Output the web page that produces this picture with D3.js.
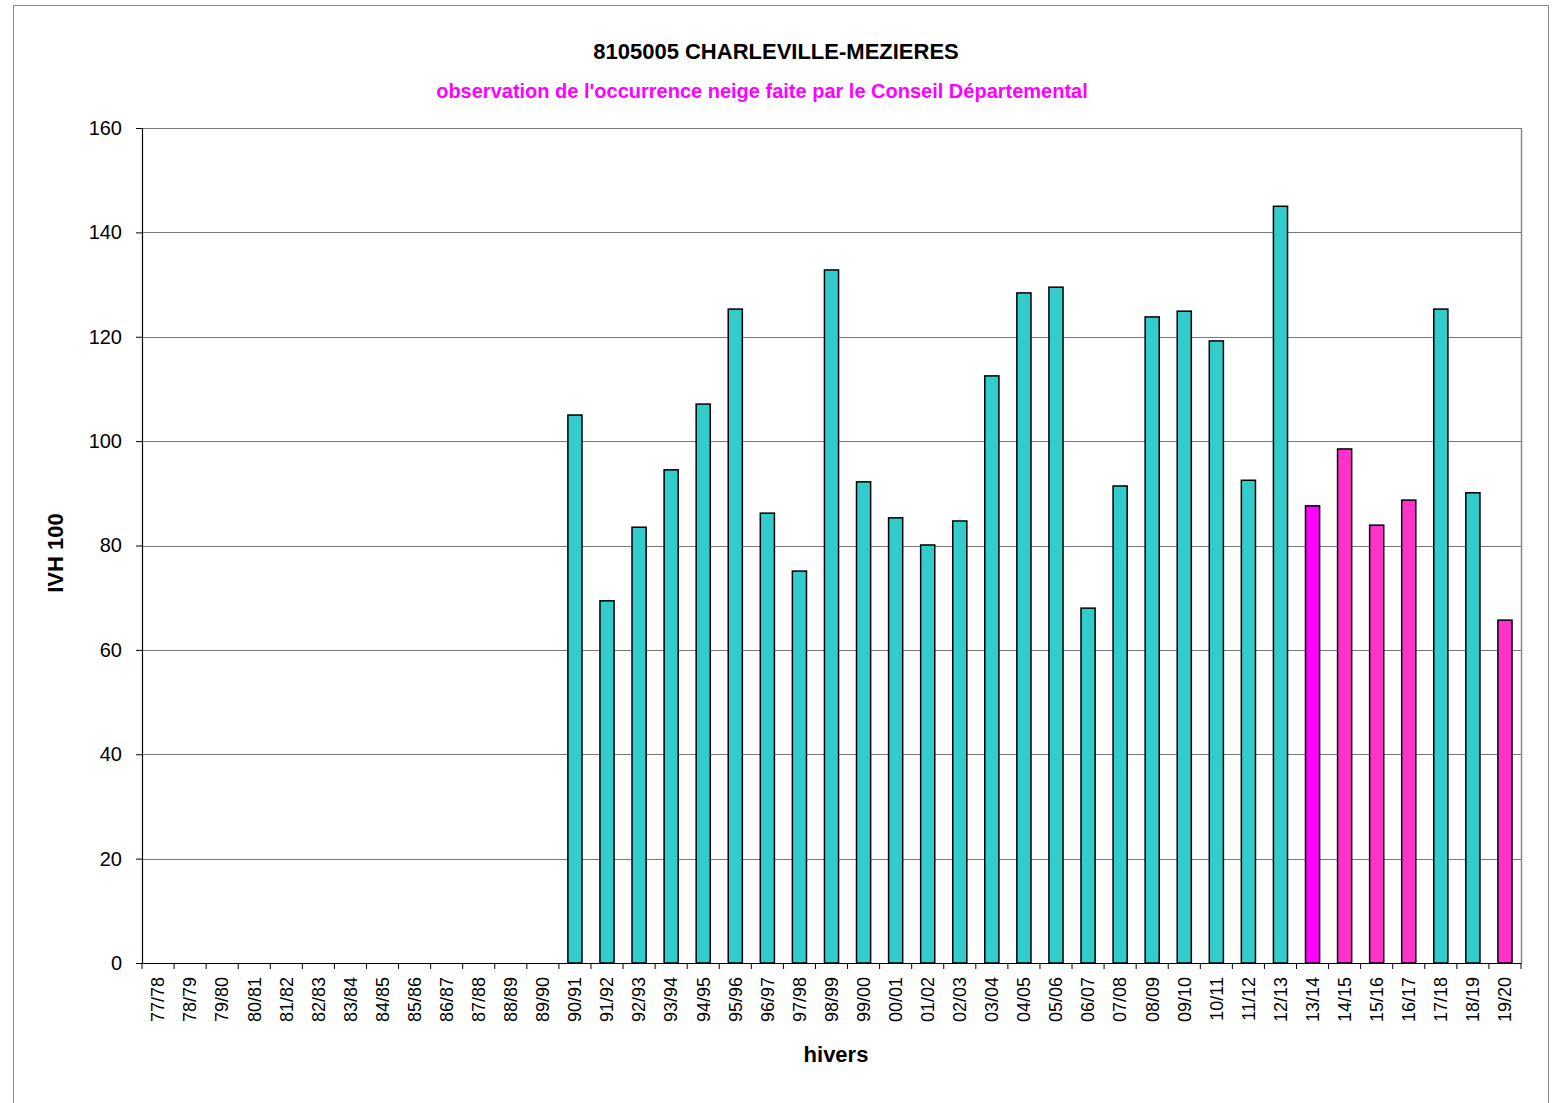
<!DOCTYPE html>
<html><head><meta charset="utf-8">
<script src="https://cdn.jsdelivr.net/npm/d3@7"></script>
<style>body{margin:0;background:#fff}svg{display:block}</style>
</head><body>
<svg id="c" width="1552" height="1103"></svg>
<script>
const categories = ["77/78","78/79","79/80","80/81","81/82","82/83","83/84","84/85","85/86","86/87","87/88","88/89","89/90","90/91","91/92","92/93","93/94","94/95","95/96","96/97","97/98","98/99","99/00","00/01","01/02","02/03","03/04","04/05","05/06","06/07","07/08","08/09","09/10","10/11","11/12","12/13","13/14","14/15","15/16","16/17","17/18","18/19","19/20"];
const values = [null,null,null,null,null,null,null,null,null,null,null,null,null,105,69.4,83.5,94.5,107.1,125.3,86.2,75.1,132.8,92.2,85.3,80.1,84.7,112.5,128.4,129.5,68.0,91.4,123.8,124.9,119.2,92.5,145.0,87.6,98.5,83.9,88.7,125.3,90.1,65.7];
const barColors = ["#33CCCC","#33CCCC","#33CCCC","#33CCCC","#33CCCC","#33CCCC","#33CCCC","#33CCCC","#33CCCC","#33CCCC","#33CCCC","#33CCCC","#33CCCC","#33CCCC","#33CCCC","#33CCCC","#33CCCC","#33CCCC","#33CCCC","#33CCCC","#33CCCC","#33CCCC","#33CCCC","#33CCCC","#33CCCC","#33CCCC","#33CCCC","#33CCCC","#33CCCC","#33CCCC","#33CCCC","#33CCCC","#33CCCC","#33CCCC","#33CCCC","#33CCCC","#FF00FF","#FF33CC","#FF33CC","#FF33CC","#33CCCC","#33CCCC","#FF33CC"];
const yTicks = [0,20,40,60,80,100,120,140,160];
const title = "8105005 CHARLEVILLE-MEZIERES";
const subtitle = "observation de l'occurrence neige faite par le Conseil Départemental";
const xTitle = "hivers";
const yTitle = "IVH 100";

const svg = d3.select("#c");
const font = "'Liberation Sans', Arial, sans-serif";
const L = 142, R = 1521, T = 128, B = 963;

svg.append("rect").attr("x",13.5).attr("y",5.5).attr("width",1535).attr("height",1110)
  .attr("fill","none").attr("stroke","#888").attr("stroke-width",1);

const x = d3.scaleBand().domain(categories).range([L,R]).paddingInner(0.56).paddingOuter(0.28);
const y = d3.scaleLinear().domain([0,160]).range([B,T]);

// grid
svg.append("g").selectAll("line").data(yTicks.filter(d=>d>0)).join("line")
  .attr("x1",L).attr("x2",R).attr("y1",d=>Math.round(y(d))+0.5).attr("y2",d=>Math.round(y(d))+0.5)
  .attr("stroke","#777").attr("stroke-width",1.2);
// right border
svg.append("line").attr("x1",R+0.5).attr("x2",R+0.5).attr("y1",T).attr("y2",B).attr("stroke","#888").attr("stroke-width",1.5);

// bars
svg.append("g").selectAll("rect").data(categories.map((c,i)=>({c,v:values[i],col:barColors[i]})).filter(d=>d.v!=null)).join("rect")
  .attr("x",d=>x(d.c)).attr("width",x.bandwidth())
  .attr("y",d=>y(d.v)).attr("height",d=>y(0)-y(d.v))
  .attr("fill",d=>d.col).attr("stroke","#000").attr("stroke-width",1.5);

// y axis
const ya = svg.append("g").attr("transform",`translate(${L},0)`)
  .call(d3.axisLeft(y).tickValues(yTicks).tickSize(6).tickPadding(4).tickSizeOuter(0));
ya.select(".domain").attr("stroke","#000").attr("stroke-width",1.2);
ya.selectAll(".tick line").attr("stroke","#000");
ya.selectAll("text").attr("font-family",font).attr("font-size",20).attr("fill","#000").attr("dx",-10);

// x axis
const xa = svg.append("g").attr("transform",`translate(0,${B})`)
  .call(d3.axisBottom(x).tickSize(0).tickSizeOuter(0));
xa.select(".domain").attr("stroke","#000").attr("stroke-width",1.2);
xa.selectAll(".tick text").attr("font-family",font).attr("font-size",18).attr("fill","#000")
  .attr("transform","rotate(-90)").attr("text-anchor","end").attr("x",-14).attr("y",0).attr("dy","0.35em");
// boundary ticks
svg.append("g").selectAll("line").data(d3.range(categories.length+1)).join("line")
  .attr("x1",i=>L+i*(R-L)/categories.length).attr("x2",i=>L+i*(R-L)/categories.length)
  .attr("y1",B).attr("y2",B+6).attr("stroke","#000").attr("stroke-width",1);

// titles
svg.append("text").attr("x",776).attr("y",59).attr("text-anchor","middle")
  .attr("font-family",font).attr("font-weight","bold").attr("font-size",22).text(title);
svg.append("text").attr("x",762).attr("y",98).attr("text-anchor","middle")
  .attr("font-family",font).attr("font-weight","bold").attr("font-size",20).attr("fill","#FF00FF").text(subtitle);
svg.append("text").attr("x",836).attr("y",1062).attr("text-anchor","middle")
  .attr("font-family",font).attr("font-weight","bold").attr("font-size",22).text(xTitle);
svg.append("text").attr("transform","translate(63,553) rotate(-90)").attr("text-anchor","middle")
  .attr("font-family",font).attr("font-weight","bold").attr("font-size",22).text(yTitle);
</script>
</body></html>
